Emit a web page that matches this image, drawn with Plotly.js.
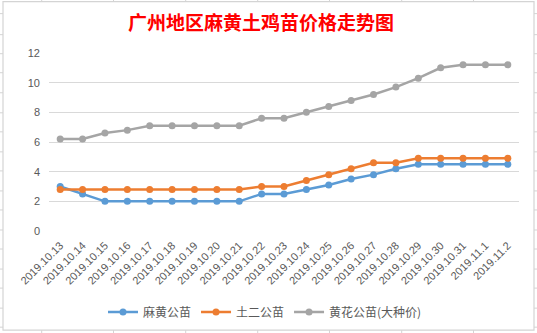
<!DOCTYPE html>
<html>
<head>
<meta charset="utf-8">
<script src="https://cdn.plot.ly/plotly-3.0.1.min.js"></script>
<style>html,body{margin:0;padding:0;background:#fff;}#chart{width:537px;height:333px;}</style>
</head>
<body>
<div id="chart"></div>
<script>
const dates = ["2019.10.13","2019.10.14","2019.10.15","2019.10.16","2019.10.17","2019.10.18","2019.10.19","2019.10.20","2019.10.21","2019.10.22","2019.10.23","2019.10.24","2019.10.25","2019.10.26","2019.10.27","2019.10.28","2019.10.29","2019.10.30","2019.10.31","2019.11.1","2019.11.2"];
const mahuang = [3.0,2.5,2.0,2.0,2.0,2.0,2.0,2.0,2.0,2.5,2.5,2.8,3.1,3.5,3.8,4.2,4.5,4.5,4.5,4.5,4.5];
const tuer = [2.8,2.8,2.8,2.8,2.8,2.8,2.8,2.8,2.8,3.0,3.0,3.4,3.8,4.2,4.6,4.6,4.9,4.9,4.9,4.9,4.9];
const huanghua = [6.2,6.2,6.6,6.8,7.1,7.1,7.1,7.1,7.1,7.6,7.6,8.0,8.4,8.8,9.2,9.7,10.3,11.0,11.2,11.2,11.2];
const seriesNames = ["麻黄公苗","土二公苗","黄花公苗(大种价)"];
const yTicks = [0,2,4,6,8,10,12];

const colors = ["#5B9BD5","#ED7D31","#A5A5A5"];
const data = [mahuang, tuer, huanghua].map((v,i)=>({
  x: dates, y: v, name: seriesNames[i], type:'scatter', mode:'lines+markers',
  line:{color:colors[i], width:2.5}, marker:{color:colors[i], size:7}
}));

// Excel cell grid outside the chart border
const shapes = [];
const gridC = "#D4D4D4";
shapes.push({type:'rect', xref:'x domain', yref:'y domain', x0:(3-49)/470, x1:(534-49)/470, y0:(231-330)/177.7, y1:(231-2)/177.7, line:{color:gridC, width:1.2}});
[14,35,54,73,93,113,132,152,171,191,210,230,249,269,288,308,327].forEach(y=>{
  shapes.push({type:'line', xref:'x domain', yref:'y domain', x0:(0-49)/470, x1:(3-49)/470, y0:(231-y)/177.7, y1:(231-y)/177.7, line:{color:gridC, width:1}});
  shapes.push({type:'line', xref:'x domain', yref:'y domain', x0:(534-49)/470, x1:(537-49)/470, y0:(231-y)/177.7, y1:(231-y)/177.7, line:{color:gridC, width:1}});
});
[41.7,113.5,185.7,257.7,329.5,401.7,473.5].forEach(x=>{
  shapes.push({type:'line', xref:'x domain', yref:'y domain', x0:(x-49)/470, x1:(x-49)/470, y0:(231-0)/177.7, y1:(231-2)/177.7, line:{color:gridC, width:1}});
  shapes.push({type:'line', xref:'x domain', yref:'y domain', x0:(x-49)/470, x1:(x-49)/470, y0:(231-330)/177.7, y1:(231-333)/177.7, line:{color:gridC, width:1}});
});

const layout = {
  width: 537, height: 333,
  margin:{l:49, r:18, t:53, b:102},
  paper_bgcolor:'#fff', plot_bgcolor:'#fff',
  title:{text:'广州地区麻黄土鸡苗价格走势图', font:{family:'"Noto Sans CJK SC", sans-serif', size:19, color:'#FF0000', weight:'bold'}, xref:'container', x:261/537, xanchor:'center', yref:'container', y:1-23/333, yanchor:'middle'},
  xaxis:{type:'category', tickangle:-45, showgrid:false, zeroline:false, showline:false, ticks:'', ticklabelstandoff:5, tickfont:{family:'"Liberation Sans", sans-serif', size:11, color:'#595959'}, range:[-0.5, 20.5], fixedrange:true},
  yaxis:{range:[0,12], tickvals:yTicks, ticktext:yTicks.map(String), gridcolor:'#D9D9D9', gridwidth:1, zeroline:false, showline:false, ticks:'', ticklabelstandoff:8, tickfont:{family:'"Liberation Sans", sans-serif', size:11, color:'#595959'}, fixedrange:true},
  showlegend:true,
  legend:{orientation:'h', xref:'container', x:265/537, xanchor:'center', yref:'container', y:(333-312)/333, yanchor:'middle', font:{family:'"Noto Sans CJK SC", sans-serif', size:12, color:'#595959'}, itemwidth:30, tracegroupgap:0, entrywidth:0},
  shapes: shapes
};
Plotly.newPlot('chart', data, layout, {displayModeBar:false, staticPlot:true});
</script>
</body>
</html>
